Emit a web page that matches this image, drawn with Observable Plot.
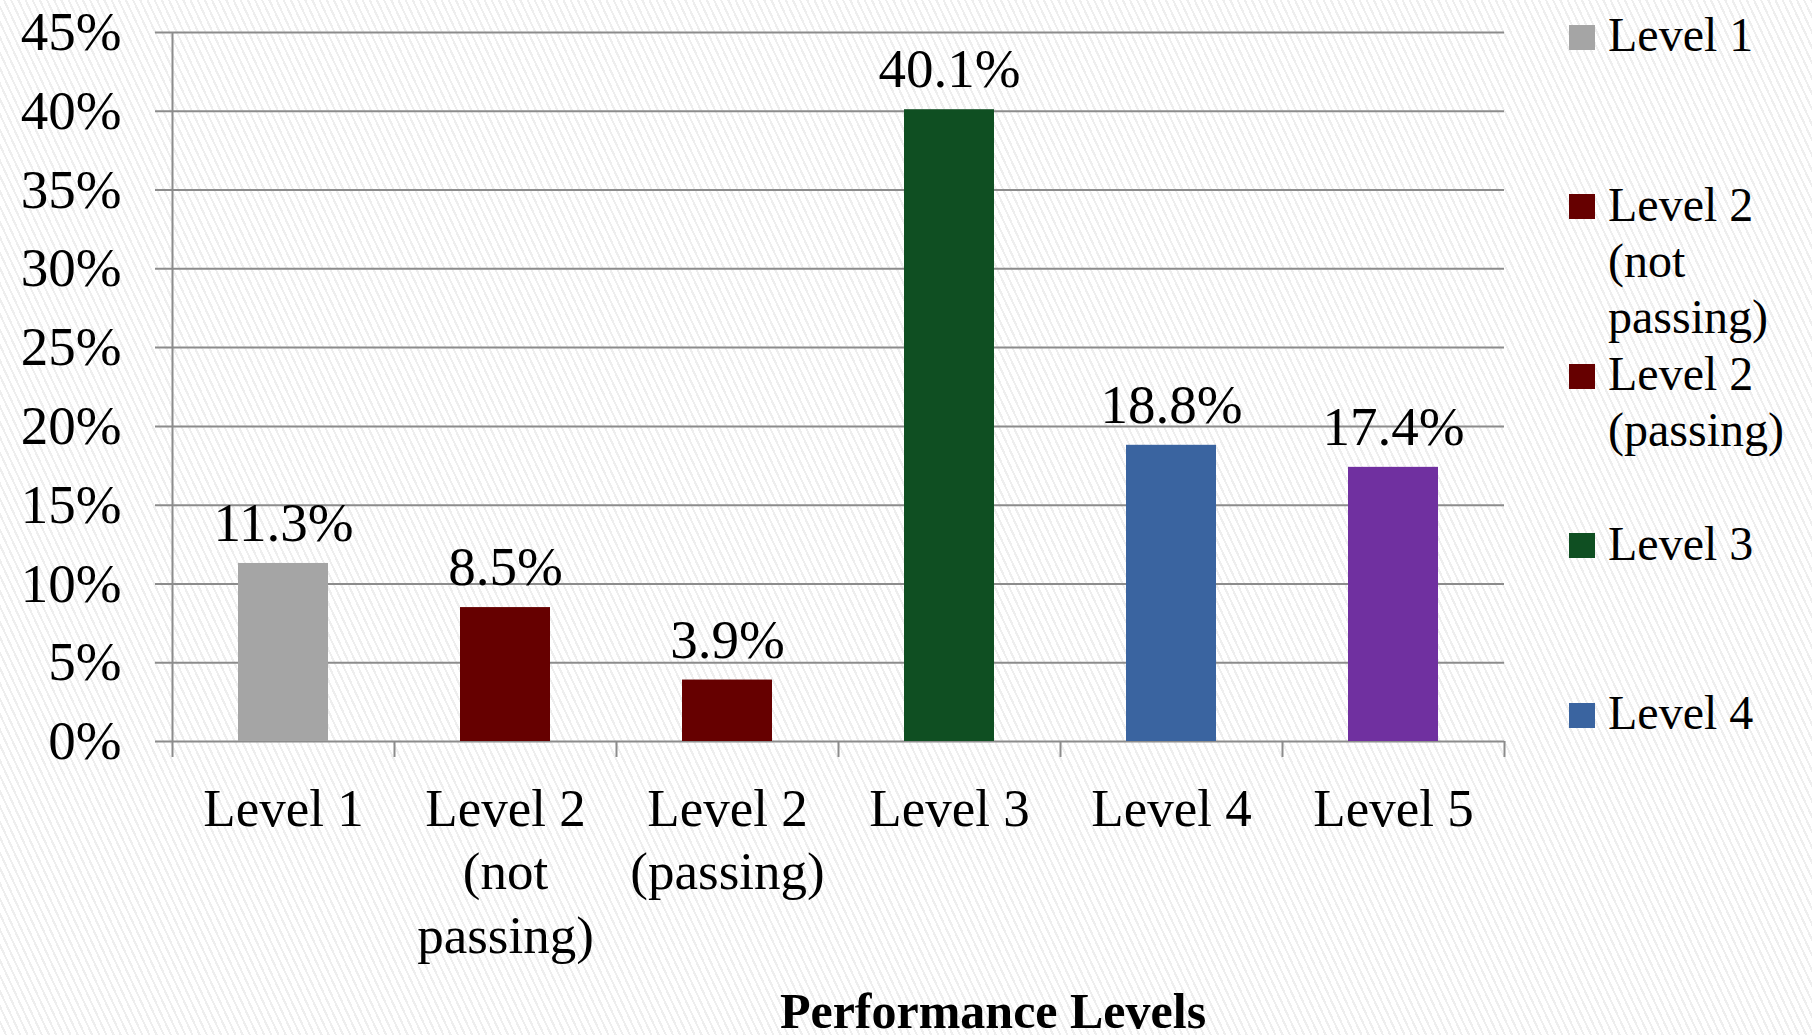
<!DOCTYPE html>
<html>
<head>
<meta charset="utf-8">
<script src="https://cdn.jsdelivr.net/npm/d3@7"></script>
<script src="https://cdn.jsdelivr.net/npm/@observablehq/plot@0.6"></script>
<style>
  html, body { margin: 0; padding: 0; }
  body {
    width: 1812px; height: 1035px; overflow: hidden;
    background: repeating-linear-gradient(65deg, #ffffff 0px, #ffffff 4.5px, #eeeeee 4.5px, #eeeeee 6.5px);
    font-family: "Liberation Serif", serif;
  }
  #wrap { position: relative; width: 1812px; height: 1035px; }
  #wrap svg { position: absolute; left: 0; top: 0; }
  .xtitle {
    position: absolute; left: 993px; top: 989px; transform: translateX(-50%);
    font-size: 50px; font-weight: bold; line-height: 44px; white-space: nowrap; color: #000;
  }
  .leg { position: absolute; left: 1569px; }
  .leg .sw { position: absolute; left: 0; width: 26px; height: 25px; }
  .leg .tx { position: absolute; left: 39px; font-size: 48px; line-height: 56px; white-space: pre; color: #000; }
</style>
</head>
<body>
<div id="wrap"></div>
<script>
// ---- data ----
const categories = ["Level 1", "Level 2 (not passing)", "Level 2 (passing)", "Level 3", "Level 4", "Level 5"];
const values = [11.3, 8.5, 3.9, 40.1, 18.8, 17.4];
const colors = ["#a5a5a5", "#660000", "#660000", "#0f4f22", "#3a64a0", "#7030a0"];
const tickLabels = ["Level 1", "Level 2\n(not\npassing)", "Level 2\n(passing)", "Level 3", "Level 4", "Level 5"];
const yTicks = [0, 5, 10, 15, 20, 25, 30, 35, 40, 45];
const legendLabels = ["Level 1", "Level 2\n(not\npassing)", "Level 2\n(passing)", "Level 3", "Level 4"];
const legendColors = ["#a5a5a5", "#660000", "#660000", "#0f4f22", "#3a64a0"];
const xTitle = "Performance Levels";

const data = categories.map((c, i) => ({
  category: c, value: values[i], color: colors[i], label: values[i].toFixed(1) + "%"
}));

const grid = "#8c8c8c";
const chart = Plot.plot({
  width: 1812,
  height: 1035,
  marginLeft: 172,
  marginRight: 308,
  marginTop: 32,
  marginBottom: 294,
  style: { fontFamily: "'Liberation Serif', serif", fontSize: "55px", background: "transparent", color: "#000", overflow: "visible" },
  x: { domain: categories, padding: 0, axis: null },
  y: { domain: [0, 45], axis: null },
  marks: [
    Plot.ruleY(yTicks, { stroke: grid, strokeWidth: 2, insetLeft: -17 }),
    Plot.ruleX([categories[0]], { dx: -111, stroke: grid, strokeWidth: 2, insetBottom: -16 }),
    Plot.ruleX(categories.slice(1), { y1: 0, y2: 0, dx: -111, stroke: grid, strokeWidth: 2, insetBottom: -16 }),
    Plot.ruleX([categories[categories.length - 1]], { y1: 0, y2: 0, dx: 111, stroke: grid, strokeWidth: 2, insetBottom: -16 }),
    Plot.barY(data, { x: "category", y: "value", fill: "color", insetLeft: 66, insetRight: 66 }),
    Plot.text(data, { x: "category", y: "value", text: "label", dy: -40, fontSize: 55, fill: "#000" }),
    Plot.axisY({ ticks: yTicks, tickSize: 0, tickPadding: 51, tickFormat: d => d + "%", fontSize: 55, fill: "#000", label: null }),
    Plot.axisX({ tickSize: 0, tickPadding: 39, tickFormat: d => tickLabels[categories.indexOf(d)], lineHeight: 1.2, fontSize: 53, fill: "#000", label: null })
  ]
});

const wrap = document.getElementById("wrap");
wrap.appendChild(chart);

const t = document.createElement("div");
t.className = "xtitle";
t.textContent = xTitle;
wrap.appendChild(t);

legendLabels.forEach((lab, i) => {
  const cy = 37 + i * 169.5;
  const item = document.createElement("div");
  item.className = "leg";
  item.style.top = "0px";
  const sw = document.createElement("div");
  sw.className = "sw";
  sw.style.background = legendColors[i];
  sw.style.top = (cy - 12.5) + "px";
  const tx = document.createElement("div");
  tx.className = "tx";
  tx.style.top = (cy - 30) + "px";
  tx.textContent = lab;
  item.appendChild(sw);
  item.appendChild(tx);
  wrap.appendChild(item);
});
</script>
</body>
</html>
